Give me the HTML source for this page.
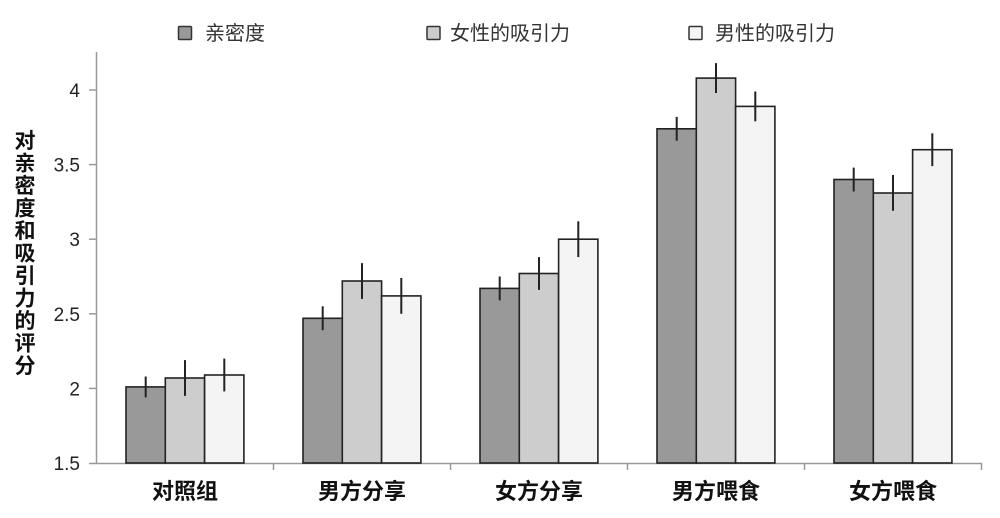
<!DOCTYPE html>
<html><head><meta charset="utf-8"><style>
html,body{margin:0;padding:0;background:#fff;}
svg{display:block;}
</style></head><body>
<svg width="1000" height="518" viewBox="0 0 1000 518" xmlns="http://www.w3.org/2000/svg">
<rect width="1000" height="518" fill="#fff"/>
<!-- legend -->
<g stroke="#333" stroke-width="1.5">
<rect x="178.5" y="26.5" width="13" height="13" fill="#999" rx="1"/>
<rect x="427" y="26.5" width="13" height="13" fill="#ccc" rx="1"/>
<rect x="689" y="26.5" width="13" height="13" fill="#f5f5f5" rx="1"/>
</g>
<g font-family="'Liberation Sans','Noto Sans CJK SC',sans-serif" font-size="20" fill="#333">
<text x="205" y="40">亲密度</text>
<text x="450" y="40">女性的吸引力</text>
<text x="715" y="40">男性的吸引力</text>
</g>
<!-- y title -->
<text font-family="'Liberation Sans','Noto Sans CJK SC',sans-serif" font-size="21" font-weight="bold" fill="#111" text-anchor="middle">
<tspan x="25" y="148">对</tspan><tspan x="25" dy="22.5">亲</tspan><tspan x="25" dy="22.5">密</tspan><tspan x="25" dy="22.5">度</tspan><tspan x="25" dy="22.5">和</tspan><tspan x="25" dy="22.5">吸</tspan><tspan x="25" dy="22.5">引</tspan><tspan x="25" dy="22.5">力</tspan><tspan x="25" dy="22.5">的</tspan><tspan x="25" dy="22.5">评</tspan><tspan x="25" dy="22.5">分</tspan>
</text>
<!-- axes -->
<g stroke="#999" stroke-width="1.5" fill="none">
<line x1="96.5" y1="52" x2="96.5" y2="464"/>
<line x1="96" y1="463.5" x2="982" y2="463.5"/>
<line x1="89" y1="463.5" x2="96.5" y2="463.5"/>
<line x1="89" y1="388.4" x2="96.5" y2="388.4"/>
<line x1="89" y1="313.8" x2="96.5" y2="313.8"/>
<line x1="89" y1="239.2" x2="96.5" y2="239.2"/>
<line x1="89" y1="164.6" x2="96.5" y2="164.6"/>
<line x1="89" y1="90" x2="96.5" y2="90"/>
<line x1="273.5" y1="463" x2="273.5" y2="470"/>
<line x1="450.5" y1="463" x2="450.5" y2="470"/>
<line x1="627.5" y1="463" x2="627.5" y2="470"/>
<line x1="804.5" y1="463" x2="804.5" y2="470"/>
<line x1="981.5" y1="463" x2="981.5" y2="470"/>
</g>
<g font-family="'Liberation Sans',sans-serif" font-size="19" fill="#222" text-anchor="end">
<text x="80" y="470">1.5</text>
<text x="80" y="395.4">2</text>
<text x="80" y="320.8">2.5</text>
<text x="80" y="246.2">3</text>
<text x="80" y="171.6">3.5</text>
<text x="80" y="97">4</text>
</g>
<!-- bars -->
<g stroke="#222" stroke-width="1.6">
<rect x="126" y="386.9" width="39.3" height="76.1" fill="#999"/>
<rect x="165.3" y="378.0" width="39.3" height="85" fill="#cdcdcd"/>
<rect x="204.6" y="375.0" width="39.3" height="88" fill="#f4f4f4"/>

<rect x="303" y="318.3" width="39.3" height="144.7" fill="#999"/>
<rect x="342.3" y="281.0" width="39.3" height="182" fill="#cdcdcd"/>
<rect x="381.6" y="295.9" width="39.3" height="167.1" fill="#f4f4f4"/>

<rect x="480" y="288.4" width="39.3" height="174.6" fill="#999"/>
<rect x="519.3" y="273.5" width="39.3" height="189.5" fill="#cdcdcd"/>
<rect x="558.6" y="239.2" width="39.3" height="223.8" fill="#f4f4f4"/>

<rect x="657" y="128.8" width="39.3" height="334.2" fill="#999"/>
<rect x="696.3" y="78.1" width="39.3" height="384.9" fill="#cdcdcd"/>
<rect x="735.6" y="106.4" width="39.3" height="356.6" fill="#f4f4f4"/>

<rect x="834" y="179.5" width="39.3" height="283.5" fill="#999"/>
<rect x="873.3" y="193.0" width="39.3" height="270" fill="#cdcdcd"/>
<rect x="912.6" y="149.7" width="39.3" height="313.3" fill="#f4f4f4"/>
</g>
<!-- error bars -->
<g stroke="#222" stroke-width="2">
<line x1="145.7" y1="376.5" x2="145.7" y2="397.4"/>
<line x1="185" y1="360.1" x2="185" y2="395.9"/>
<line x1="224.3" y1="358.6" x2="224.3" y2="391.4"/>

<line x1="322.7" y1="306.3" x2="322.7" y2="330.2"/>
<line x1="362" y1="263.1" x2="362" y2="298.9"/>
<line x1="401.3" y1="278.0" x2="401.3" y2="313.8"/>

<line x1="499.7" y1="276.5" x2="499.7" y2="300.4"/>
<line x1="539" y1="257.1" x2="539" y2="289.9"/>
<line x1="578.3" y1="221.3" x2="578.3" y2="257.1"/>

<line x1="676.7" y1="116.9" x2="676.7" y2="140.7"/>
<line x1="716" y1="63.1" x2="716" y2="93.0"/>
<line x1="755.3" y1="91.5" x2="755.3" y2="121.3"/>

<line x1="853.7" y1="167.6" x2="853.7" y2="191.5"/>
<line x1="893" y1="175.0" x2="893" y2="210.8"/>
<line x1="932.3" y1="133.3" x2="932.3" y2="166.1"/>
</g>
<!-- x labels -->
<g font-family="'Liberation Sans','Noto Sans CJK SC',sans-serif" font-size="22" font-weight="bold" fill="#111" text-anchor="middle">
<text x="185" y="499">对照组</text>
<text x="362" y="499">男方分享</text>
<text x="539" y="499">女方分享</text>
<text x="716" y="499">男方喂食</text>
<text x="893" y="499">女方喂食</text>
</g>
</svg>
</body></html>
